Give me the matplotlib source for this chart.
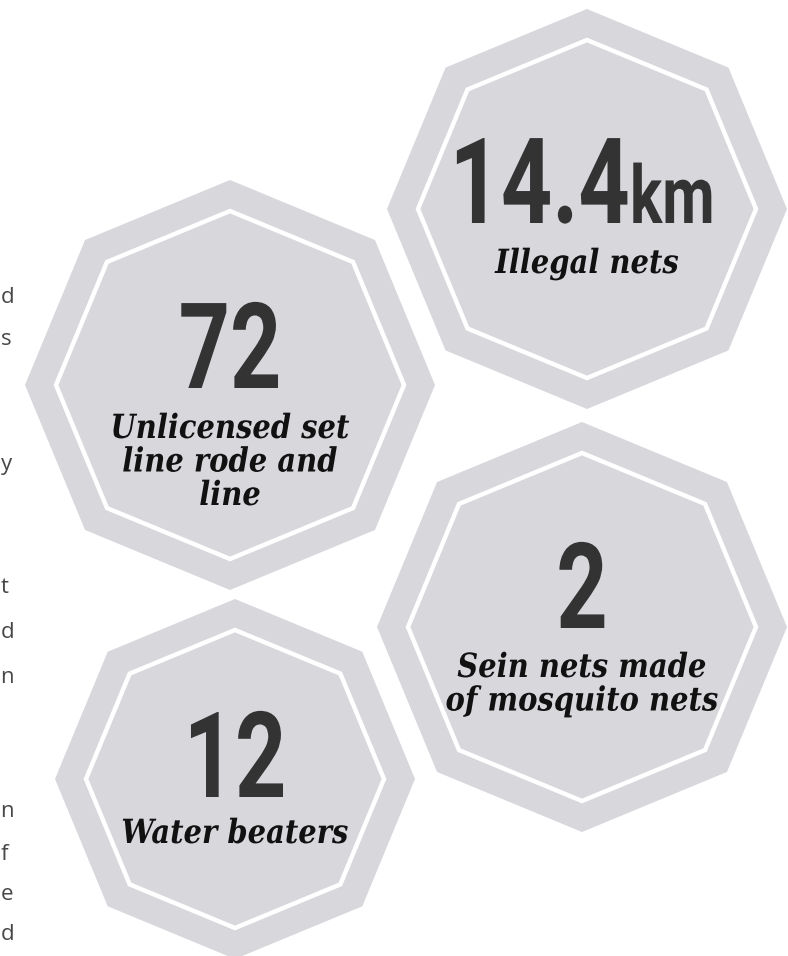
import numpy as np
import matplotlib
matplotlib.use('Agg')
import matplotlib.pyplot as plt
from matplotlib.patches import Polygon
from matplotlib.patheffects import AbstractPathEffect
from matplotlib.transforms import Affine2D

# figures shown in the badges
values = ['14.4', '72', '2', '12']
units = ['km', '', '', '']
labels = [
	['Illegal nets'],
	['Unlicensed set', 'line rode and', 'line'],
	['Sein nets made', 'of mosquito nets'],
	['Water beaters'],
]
# ends of the body text lines, cut by the left edge
side_letters = ['d', 's', 'y', 't', 'd', 'n', 'n', 'f', 'e', 'd']
side_rows = [303, 345, 470, 593, 638, 683, 817, 860, 900, 940]

# badge layout: centre x, centre y, radius, number baseline, label baseline
badges = [
	(587, 209, 200, 223, 273),
	(230, 385, 205, 388, 438),
	(582, 627, 205, 628, 677),
	(235, 779, 180, 797, 843),
]

GREY = '#d7d7dc'
NUM = '#333333'


class Narrow(AbstractPathEffect):
	# squeeze the glyphs horizontally around a fixed x, like a condensed face
	def __init__(self, ax, x, factor):
		super().__init__()
		self.ax = ax
		self.x = x
		self.factor = factor

	def draw_path(self, renderer, gc, tpath, affine, rgbFace=None):
		x0 = self.ax.transData.transform((self.x, 0))[0]
		sq = Affine2D().translate(-x0, 0).scale(self.factor, 1).translate(x0, 0)
		renderer.draw_path(gc, tpath, affine + sq, rgbFace)


def octagon(cx, cy, r):
	a = np.radians(np.arange(8) * 45.0)
	return np.column_stack([cx + r * np.cos(a), cy + r * np.sin(a)])


def main():
	fig = plt.figure(figsize=(7.88, 9.56), dpi=100)
	ax = fig.add_axes([0, 0, 1, 1])
	ax.set_xlim(0, 788)
	ax.set_ylim(956, 0)
	ax.axis('off')

	i = 0
	while (i < len(side_letters)):
		ax.text(0.5, side_rows[i], side_letters[i], ha='left', va='baseline',
			fontsize=16, family='Open Sans', color='#474747')
		i += 1

	i = 0
	while (i < len(badges)):
		cx, cy, r, nb, lb = badges[i]
		ax.add_patch(Polygon(octagon(cx, cy, r), closed=True, facecolor=GREY,
			edgecolor='none', zorder=1))
		ax.add_patch(Polygon(octagon(cx, cy, r - 31), closed=True, facecolor='none',
			edgecolor='white', linewidth=3.2, joinstyle='miter', zorder=2))
		if (units[i] != ''):
			joint = 630
			ax.text(joint, nb, values[i], ha='right', va='baseline', fontsize=86,
				family='Roboto', weight='bold', color=NUM, zorder=3,
				path_effects=[Narrow(ax, joint, 0.75)])
			ax.text(joint, nb, units[i], ha='left', va='baseline', fontsize=58,
				family='Roboto', weight='bold', color=NUM, zorder=3,
				path_effects=[Narrow(ax, joint, 0.75)])
		else:
			ax.text(cx, nb, values[i], ha='center', va='baseline', fontsize=86,
				family='Roboto', weight='bold', color=NUM, zorder=3,
				path_effects=[Narrow(ax, cx, 0.75)])
		j = 0
		while (j < len(labels[i])):
			ax.text(cx, lb + j * 33.5, labels[i][j], ha='center', va='baseline',
				fontsize=24, family='DejaVu Serif', weight='bold', style='italic',
				color='#111111', zorder=3, path_effects=[Narrow(ax, cx, 0.87)])
			j += 1
		i += 1

	fig.savefig('out.png', dpi=100, facecolor='white')


if __name__ == '__main__':
	main()
